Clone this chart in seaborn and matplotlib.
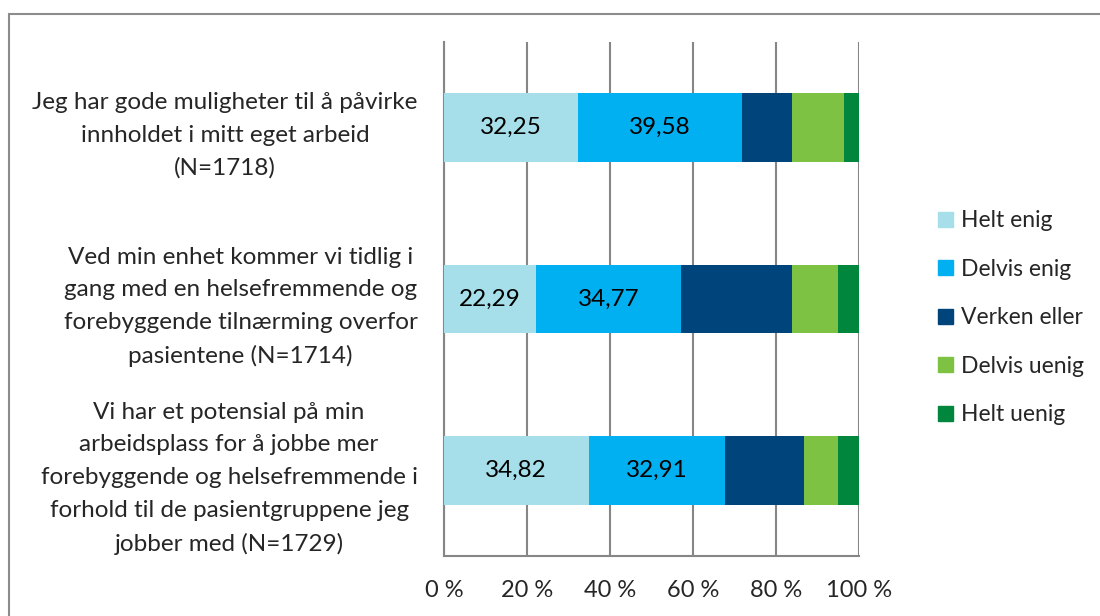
import numpy as np
import pandas as pd
import matplotlib.pyplot as plt
import seaborn as sns
from matplotlib.patches import Rectangle

sns.set_theme(style='white')
plt.rcParams['font.family'] = ['Lato', 'DejaVu Sans']

statements = [
    'Jeg har gode muligheter til å påvirke\ninnholdet i mitt eget arbeid\n(N=1718)',
    'Ved min enhet kommer vi tidlig i\ngang med en helsefremmende og\nforebyggende tilnærming overfor\npasientene (N=1714)',
    'Vi har et potensial på min\narbeidsplass for å jobbe mer\nforebyggende og helsefremmende i\nforhold til de pasientgruppene jeg\njobber med (N=1729)',
]
answers = ['Helt enig', 'Delvis enig', 'Verken eller', 'Delvis uenig', 'Helt uenig']
helt_enig = [32.25, 22.29, 34.82]
delvis_enig = [39.58, 34.77, 32.91]
verken_eller = [12.0, 26.7, 18.9]
delvis_uenig = [12.45, 11.1, 8.4]
helt_uenig = [3.72, 5.14, 4.97]
colors = ['#A6DEE9', '#00B0F0', '#00447C', '#7DC242', '#00863D']

values = np.array([helt_enig, delvis_enig, verken_eller, delvis_uenig, helt_uenig])
shares = values / values.sum(axis=0) * 100
cum = np.cumsum(shares, axis=0)

fig, ax = plt.subplots(figsize=(11, 6.16), dpi=100)
fig.subplots_adjust(left=0.4036, right=0.781, top=0.932, bottom=0.0974)

keys = ['s0', 's1', 's2']
for i in range(len(answers) - 1, -1, -1):
    df = pd.DataFrame({'stmt': keys, 'val': cum[i]})
    sns.barplot(data=df, x='val', y='stmt', orient='h', color=colors[i],
                width=0.4, saturation=1, linewidth=0, ax=ax, zorder=3)

# data labels for the two first answers
for i in range(2):
    for j in range(3):
        start = cum[i][j] - shares[i][j]
        ax.text(start + shares[i][j] / 2, j, f'{values[i][j]:.2f}'.replace('.', ','),
                ha='center', va='center', fontsize=17.5, color='black', zorder=5)

ax.set_xlim(0, 100)
ax.set_ylim(2.5, -0.5)
ax.set_xticks([0, 20, 40, 60, 80, 100])
ax.set_xticklabels([f'{t} %' for t in [0, 20, 40, 60, 80, 100]], fontsize=17)
ax.set_yticks([0, 1, 2])
ax.set_yticklabels(statements, fontsize=17.5, multialignment='center', linespacing=1.68)
ax.set_yticks([-0.5, 0.5, 1.5, 2.5], minor=True)
ax.tick_params(axis='y', which='major', length=0, pad=19)
ax.tick_params(axis='y', which='minor', length=8, width=1.5, color='#868686', direction='out')
ax.tick_params(axis='x', length=8, width=1.5, color='#868686', direction='out', pad=9)
ax.set_xlabel('')
ax.set_ylabel('')
ax.grid(axis='x', color='#868686', linewidth=1.5, zorder=0)
ax.set_axisbelow(True)
for side in ['top', 'right']:
    ax.spines[side].set_visible(False)
for side in ['left', 'bottom']:
    ax.spines[side].set_color('#868686')
    ax.spines[side].set_linewidth(1.5)

handles = [Rectangle((0, 0), 1, 1, color=c) for c in colors]
fig.legend(handles, answers, loc='center left', bbox_to_anchor=(0.834, 0.484),
           frameon=False, fontsize=16.5, handlelength=0.65, handleheight=0.65,
           handletextpad=0.35, labelspacing=1.2)

fig.patches.append(Rectangle((9 / 1100, -0.1), 1.2, 1.1 - 13.5 / 616, transform=fig.transFigure,
                             fill=False, edgecolor='#8c8c8c', linewidth=1.5))

plt.savefig('out.png', dpi=100)
plt.close()
